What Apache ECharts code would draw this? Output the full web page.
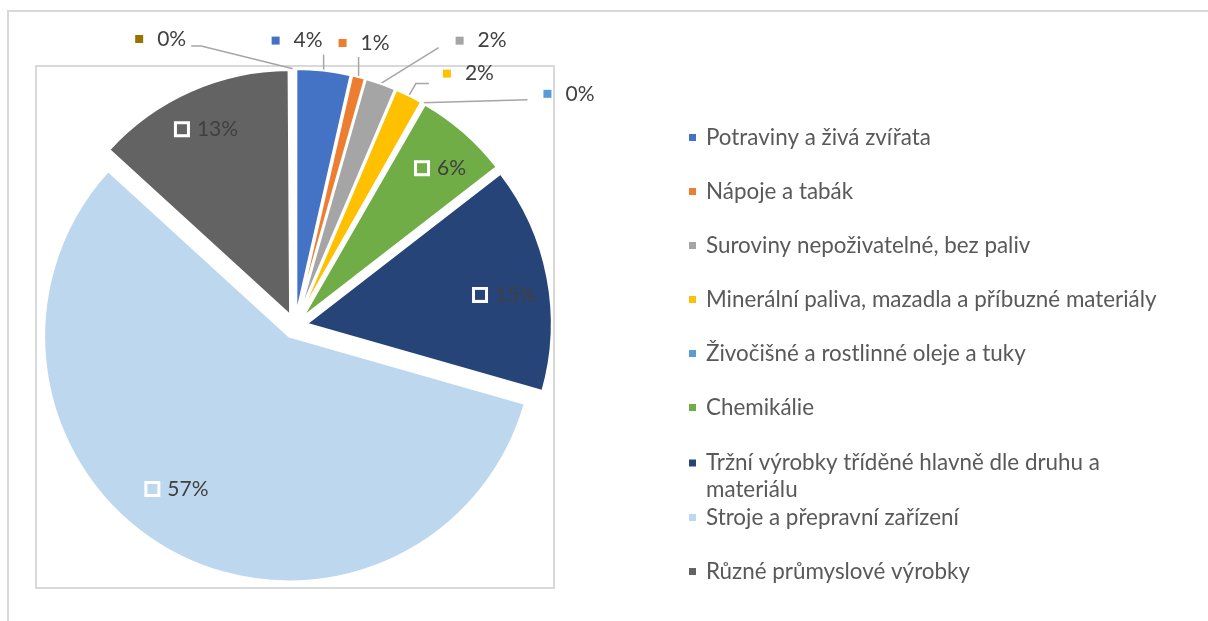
<!DOCTYPE html>
<html>
<head>
<meta charset="utf-8">
<script src="https://cdn.jsdelivr.net/npm/echarts@6/dist/echarts.min.js"></script>
<style>
html,body{margin:0;padding:0;background:#fff;}
#chart{width:1208px;height:621px;}
</style>
</head>
<body>
<div id="chart"></div>
<script>
// ---- data ----
const categories = [
  'Potraviny a živá zvířata',
  'Nápoje a tabák',
  'Suroviny nepoživatelné, bez paliv',
  'Minerální paliva, mazadla a příbuzné materiály',
  'Živočišné a rostlinné oleje a tuky',
  'Chemikálie',
  'Tržní výrobky tříděné hlavně dle druhu a materiálu',
  'Stroje a přepravní zařízení',
  'Různé průmyslové výrobky',
  'Komodity a předměty obchodu jinde nezařazené'
];
const values = [3.55, 0.85, 2.0, 1.8, 0.1, 6.2, 14.9, 57.3, 13.1, 0.1];
const colors = ['#4472C4', '#ED7D31', '#A5A5A5', '#FFC000', '#5B9BD5', '#70AD47', '#264478', '#BDD7EE', '#636363', '#997300'];
const legendNames = categories.slice(0, 9);
const insideIdx = [5, 6, 7, 8];

// ---- layout / style ----
const CX = 295, CY = 326, R = 245, OFF = 12;
const FONT = 'Lato';
const TXT = '#404040';
const LABEL_SIZE = 21;
// outer labels: leader segments from the arc, label anchor offset from the line end
const outerStyle = {
  0: {seg: [[0, -16]], align: 'right', dx: -1, dy: -14},
  1: {seg: [[0, -20]], align: 'right', dx: 31, dy: -14},
  2: {seg: [[58, -36]], align: 'left', dx: 17, dy: -7},
  3: {seg: [[7, -12], [13, 0]], align: 'left', dx: 14, dy: -10},
  4: {seg: [[105, -3]], align: 'left', dx: 16, dy: -6},
  9: {seg: [[-93, -23], [-10, 0]], align: 'right', dx: -5, dy: -7}
};
// inside labels: radial factor and angular tweak (degrees)
const insideStyle = {
  5: {k: 0.83, rot: 1.8},
  6: {k: 0.82, rot: 2.5},
  7: {k: 0.77, rot: 6.5},
  8: {k: 0.83, rot: 0}
};

const total = values.reduce((a, b) => a + b, 0);
function midAngle(i) {
  let cum = 0;
  for (let k = 0; k < i; k++) cum += values[k];
  return (cum + values[i] / 2) / total * Math.PI * 2;
}
function dirOf(a) { return [Math.sin(a), -Math.cos(a)]; }

const rich = {
  t: {fontFamily: FONT, fontSize: LABEL_SIZE, color: TXT}
};
colors.forEach((c, i) => {
  rich['ki' + i] = {width: 10, height: 10, backgroundColor: c, borderColor: '#fff', borderWidth: 3};
  rich['ko' + i] = {width: 8, height: 8, backgroundColor: c};
});
rich.gi = {width: 10};
rich.go = {width: 14};

// per-item label padding / leader lengths so the label lands at its anchor
function outerPlacement(i) {
  const d = dirOf(midAngle(i));
  const st = outerStyle[i];
  const p0 = [CX + d[0] * (R + OFF), CY + d[1] * (R + OFF)];
  let e = p0.slice();
  const pts = [p0.slice()];
  st.seg.forEach(s => { e = [e[0] + s[0], e[1] + s[1]]; pts.push(e.slice()); });
  const want = [e[0] + st.dx, e[1] + st.dy];
  const side = d[0] < 0 ? -1 : 1;
  const a0 = [p0[0] + side * 5, p0[1]];
  let len2 = 0, padL = 0, padR = 0;
  const hx = want[0] - a0[0];
  if (hx * side > 0) {
    len2 = Math.abs(hx);
  } else if (st.align === 'right') {
    padR = Math.max(0, -hx);
  } else {
    padL = Math.max(0, hx);
  }
  const hy = want[1] - a0[1];
  const padT = Math.max(0, 2 * hy), padB = Math.max(0, -2 * hy);
  const sx = d[0] * OFF, sy = d[1] * OFF;
  return {
    len2: len2,
    padding: [padT, padR, padB, padL],
    points: pts.map(p => [p[0] - sx, p[1] - sy]),
    align: st.align
  };
}
function insidePadding(i) {
  const a = midAngle(i);
  const d = dirOf(a);
  const st = insideStyle[i];
  const a0 = [CX + d[0] * (OFF + R / 2 + 3), CY + d[1] * (OFF + R / 2 + 3)];
  const d2 = dirOf(a + st.rot * Math.PI / 180);
  const want = [CX + d2[0] * (OFF + st.k * R), CY + d2[1] * (OFF + st.k * R)];
  const hx = want[0] - a0[0], hy = want[1] - a0[1];
  return [Math.max(0, 2 * hy), Math.max(0, -2 * hx), Math.max(0, -2 * hy), Math.max(0, 2 * hx)];
}

const placements = {};
Object.keys(outerStyle).forEach(k => { placements[k] = outerPlacement(+k); });

const data = categories.map((name, i) => {
  const inside = insideIdx.indexOf(i) >= 0;
  const item = {
    name: name,
    value: values[i],
    selected: true,
    itemStyle: {color: colors[i]}
  };
  if (inside) {
    item.label = {position: 'inside', padding: insidePadding(i)};
    item.labelLine = {show: false};
  } else {
    const pl = placements[i];
    item.label = {position: 'outside', padding: pl.padding};
    item.labelLine = {show: true, length: 0, length2: pl.len2};
  }
  return item;
});

function labelLayout(p) {
  const pl = placements[p.dataIndex];
  if (!pl) return {};
  return {align: pl.align, labelLinePoints: pl.points};
}

const legendCommon = {
  orient: 'vertical', left: 687, padding: 0, itemWidth: 9, itemHeight: 9, icon: 'rect',
  selectedMode: false, itemGap: 27,
  textStyle: {fontFamily: FONT, fontSize: 22.4, color: '#595959', lineHeight: 27, padding: [0, 0, 0, 4]}
};

const chart = echarts.init(document.getElementById('chart'), null, {renderer: 'canvas'});
chart.setOption({
  animation: false,
  backgroundColor: '#ffffff',
  graphic: [
    {type: 'rect', shape: {x: 8, y: 11, width: 1300, height: 700}, style: {fill: 'none', stroke: '#d9d9d9', lineWidth: 2}, z: -10},
    {type: 'rect', shape: {x: 36, y: 66, width: 518, height: 522}, style: {fill: 'none', stroke: '#d9d9d9', lineWidth: 2}, z: -10}
  ],
  legend: [
    Object.assign({}, legendCommon, {top: 124, data: legendNames.slice(0, 6)}),
    Object.assign({}, legendCommon, {
      top: 422.5, data: [legendNames[6]],
      formatter: n => '\n' + n.replace(/ (\S+)$/, '\n$1')
    }),
    Object.assign({}, legendCommon, {top: 504, data: legendNames.slice(7, 9)})
  ],
  series: [{
    type: 'pie',
    center: [CX, CY],
    radius: R,
    startAngle: 90,
    clockwise: true,
    selectedMode: 'multiple',
    selectedOffset: OFF,
    avoidLabelOverlap: false,
    emphasis: {disabled: true},
    itemStyle: {borderColor: '#ffffff', borderWidth: 2},
    label: {
      show: true,
      position: 'outside',
      fontFamily: FONT, fontSize: LABEL_SIZE, color: TXT,
      formatter: p => {
        const inside = insideIdx.indexOf(p.dataIndex) >= 0;
        const pct = Math.round(p.percent) + '%';
        return inside ? '{ki' + p.dataIndex + '|}{gi|}{t|' + pct + '}'
                      : '{ko' + p.dataIndex + '|}{go|}{t|' + pct + '}';
      },
      rich: rich
    },
    labelLine: {show: true, length: 0, length2: 0, smooth: false, lineStyle: {color: '#a6a6a6', width: 1.5}},
    labelLayout: labelLayout,
    data: data
  }]
});
</script>
</body>
</html>
